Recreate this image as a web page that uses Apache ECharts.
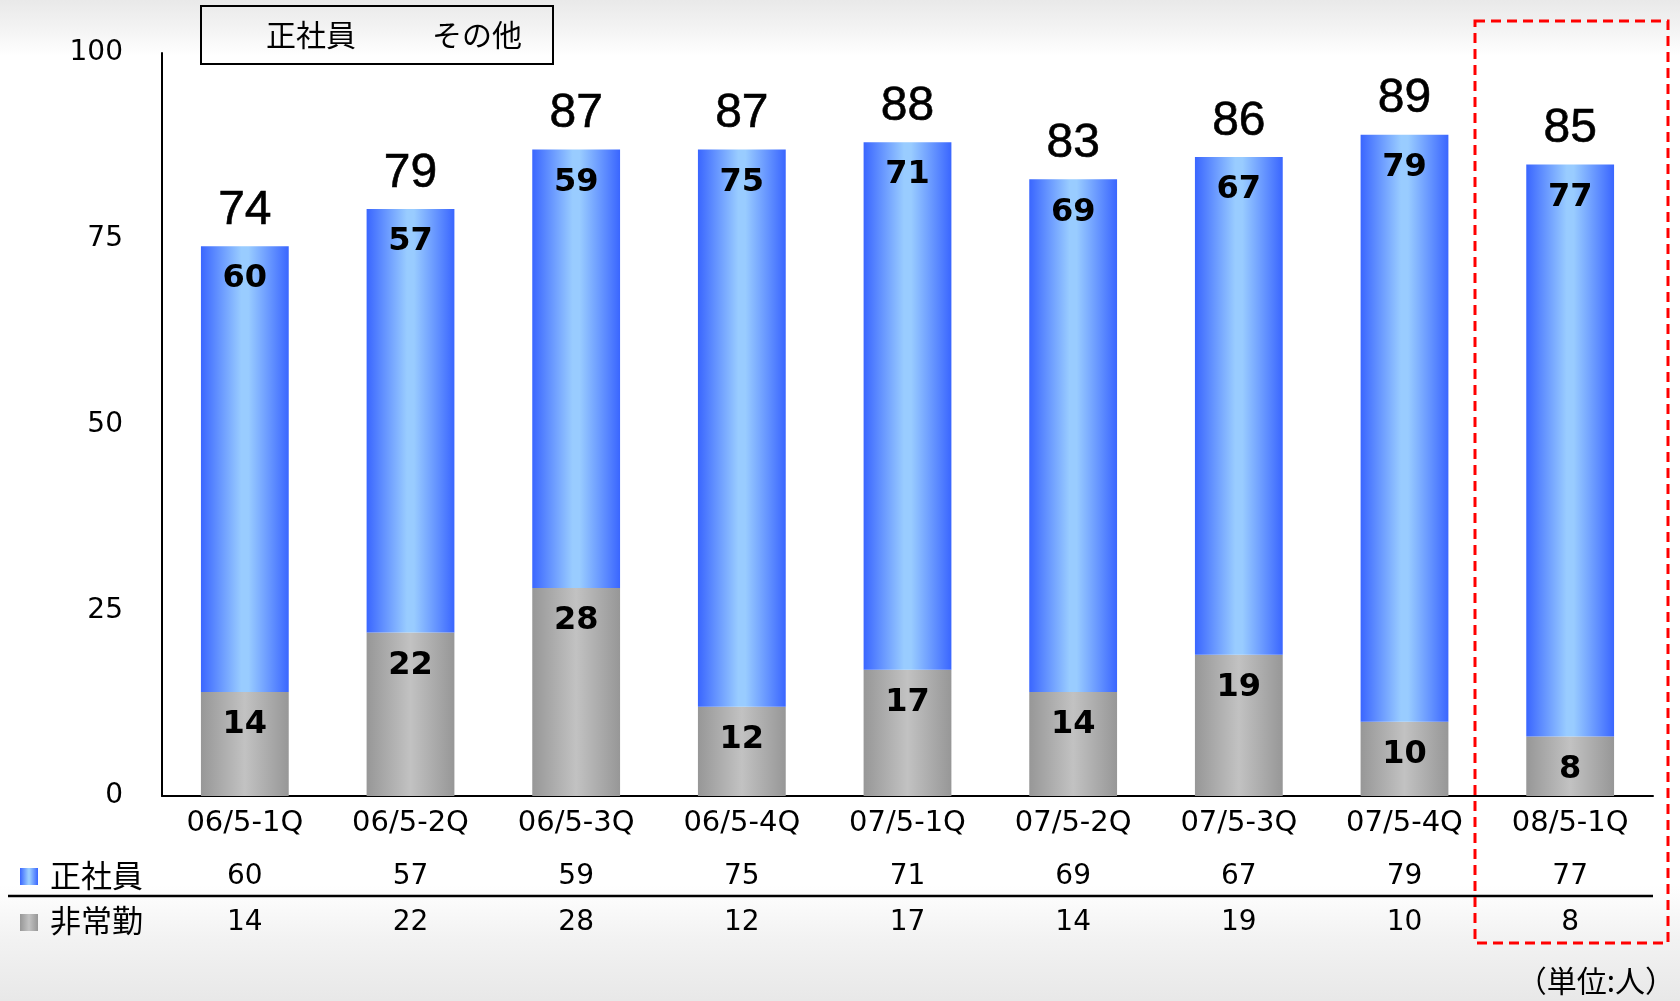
<!DOCTYPE html>
<html>
<head>
<meta charset="utf-8">
<title>社員数推移</title>
<script src="https://cdn.jsdelivr.net/npm/echarts@6/dist/echarts.min.js"></script>
<style>
  html, body { margin: 0; padding: 0; }
  body {
    width: 1680px; height: 1001px; overflow: hidden;
    background: linear-gradient(to bottom, #e9e9e9 0px, #f3f3f3 28px, #ffffff 56px, #ffffff 885px, #f2f2f2 940px, #e8e8e8 1001px);
  }
  #chart { width: 1680px; height: 1001px; }
</style>
</head>
<body>
<div id="chart"></div>
<script>
// Quarterly headcount (unit: persons)
const categories = ['06/5-1Q', '06/5-2Q', '06/5-3Q', '06/5-4Q', '07/5-1Q', '07/5-2Q', '07/5-3Q', '07/5-4Q', '08/5-1Q'];
const regularStaff = [60, 57, 59, 75, 71, 69, 67, 79, 77];
const partTimeStaff = [14, 22, 28, 12, 17, 14, 19, 10, 8];
const yMin = 0;
const yMax = 100;
const yStep = 25;

const totals = regularStaff.map((v, i) => v + partTimeStaff[i]);

const LATIN = 'DejaVu Sans';
const LATIN_PLAIN = 'Liberation Sans';
const CJK = '"Noto Sans CJK JP"';

const blueFill = new echarts.graphic.LinearGradient(0, 0, 1, 0, [
  { offset: 0, color: '#3a66ff' },
  { offset: 0.46, color: '#99ccff' },
  { offset: 0.54, color: '#99ccff' },
  { offset: 1, color: '#3a66ff' }
]);
const grayFill = new echarts.graphic.LinearGradient(0, 0, 1, 0, [
  { offset: 0, color: '#979797' },
  { offset: 0.5, color: '#c2c2c2' },
  { offset: 1, color: '#979797' }
]);

const chart = echarts.init(document.getElementById('chart'), null, { renderer: 'canvas' });

const innerLabel = {
  show: true,
  position: 'insideTop',
  distance: 17,
  color: '#000',
  fontFamily: LATIN,
  fontWeight: 'bold',
  fontSize: 32
};

chart.setOption({
  backgroundColor: 'transparent',
  animation: false,
  legend: {
    left: 201,
    top: 6,
    icon: 'none',
    itemWidth: 20,
    itemGap: 51,
    padding: [14, 31, 14, 40],
    borderColor: '#000',
    borderWidth: 2,
    selectedMode: false,
    data: ['正社員', 'その他'],
    textStyle: { fontFamily: CJK, fontSize: 30, color: '#000' }
  },
  grid: { left: 162, right: 27, top: 53, bottom: 205, containLabel: false },
  xAxis: {
    type: 'category',
    data: categories,
    axisLine: { show: true, lineStyle: { color: '#000', width: 2 } },
    axisTick: { show: false },
    axisLabel: {
      interval: 0,
      margin: 7,
      formatter: (val, idx) => `{c|${val}}\n{a|${regularStaff[idx]}}\n{b|${partTimeStaff[idx]}}`,
      rich: {
        c: { fontFamily: LATIN, fontSize: 29, color: '#000', lineHeight: 40 },
        a: { fontFamily: LATIN, fontSize: 28, color: '#000', lineHeight: 68 },
        b: { fontFamily: LATIN, fontSize: 28, color: '#000', lineHeight: 24 }
      }
    }
  },
  yAxis: {
    type: 'value',
    min: yMin,
    max: yMax,
    interval: yStep,
    splitLine: { show: false },
    axisTick: { show: false },
    axisLine: { show: true, lineStyle: { color: '#000', width: 2 } },
    axisLabel: { margin: 39, fontFamily: LATIN, fontSize: 28, color: '#000' }
  },
  series: [
    {
      name: 'その他',
      type: 'bar',
      stack: 'headcount',
      barCategoryGap: '47%',
      data: partTimeStaff,
      itemStyle: { color: grayFill },
      label: innerLabel
    },
    {
      name: '正社員',
      type: 'bar',
      stack: 'headcount',
      barCategoryGap: '47%',
      data: regularStaff,
      itemStyle: { color: blueFill },
      label: innerLabel
    },
    {
      name: '合計',
      type: 'scatter',
      data: totals,
      symbolSize: 1,
      itemStyle: { color: 'rgba(0,0,0,0)', opacity: 1 },
      z: 5,
      label: {
        show: true,
        position: 'top',
        distance: 11,
        color: '#000',
        opacity: 1,
        fontFamily: LATIN_PLAIN,
        fontSize: 48,
        textBorderColor: '#000',
        textBorderWidth: 0.6
      }
    }
  ],
  graphic: [
    // highlighted latest quarter
    {
      type: 'rect',
      shape: { x: 1475, y: 21, width: 193, height: 922 },
      style: { fill: 'none', stroke: '#ff0000', lineWidth: 3, lineDash: [10, 6] },
      z: 10
    },
    // table row separator
    {
      type: 'line',
      shape: { x1: 8, y1: 896, x2: 1653, y2: 896 },
      style: { stroke: '#000', lineWidth: 2.5 }
    },
    // table row keys
    {
      type: 'rect',
      shape: { x: 20, y: 868, width: 18, height: 17 },
      style: { fill: blueFill }
    },
    {
      type: 'text',
      x: 50, y: 875,
      style: { text: '正社員', fontFamily: CJK, fontSize: 31, fill: '#000', verticalAlign: 'middle' }
    },
    {
      type: 'rect',
      shape: { x: 20, y: 914, width: 18, height: 17 },
      style: { fill: grayFill }
    },
    {
      type: 'text',
      x: 50, y: 920,
      style: { text: '非常勤', fontFamily: CJK, fontSize: 31, fill: '#000', verticalAlign: 'middle' }
    },
    // unit note
    {
      type: 'text',
      x: 1675, y: 981,
      style: { text: '（単位:人）', fontFamily: CJK, fontSize: 30, fill: '#000', align: 'right', verticalAlign: 'middle' }
    }
  ]
});
</script>
</body>
</html>
